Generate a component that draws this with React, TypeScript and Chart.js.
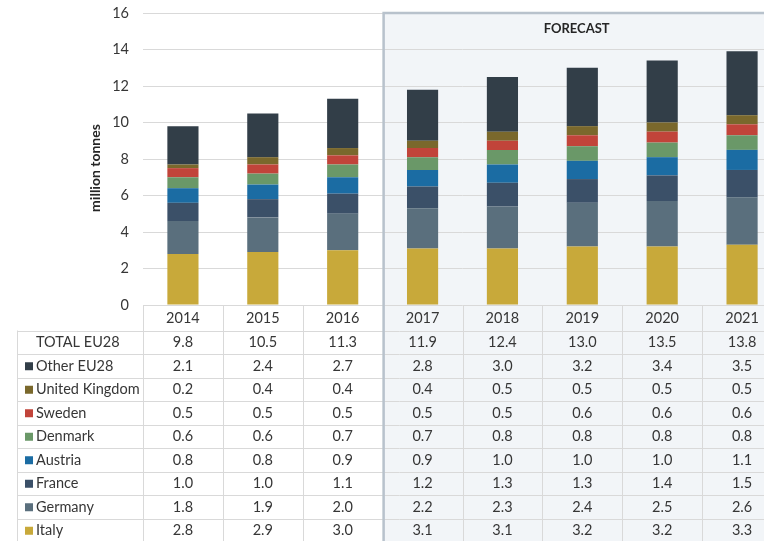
import React, { useEffect, useRef } from 'react';
import { Chart, registerables } from 'chart.js';

Chart.register(...registerables);

const years = ['2014', '2015', '2016', '2017', '2018', '2019', '2020', '2021'];
const forecastStart = 3;
const italy = [2.8, 2.9, 3.0, 3.1, 3.1, 3.2, 3.2, 3.3];
const germany = [1.8, 1.9, 2.0, 2.2, 2.3, 2.4, 2.5, 2.6];
const france = [1.0, 1.0, 1.1, 1.2, 1.3, 1.3, 1.4, 1.5];
const austria = [0.8, 0.8, 0.9, 0.9, 1.0, 1.0, 1.0, 1.1];
const denmark = [0.6, 0.6, 0.7, 0.7, 0.8, 0.8, 0.8, 0.8];
const sweden = [0.5, 0.5, 0.5, 0.5, 0.5, 0.6, 0.6, 0.6];
const unitedKingdom = [0.2, 0.4, 0.4, 0.4, 0.5, 0.5, 0.5, 0.5];
const otherEU28 = [2.1, 2.4, 2.7, 2.8, 3.0, 3.2, 3.4, 3.5];
const totalEU28 = [9.8, 10.5, 11.3, 11.9, 12.4, 13.0, 13.5, 13.8];

const series = [
  { name: 'Italy', data: italy, color: '#c8a93a' },
  { name: 'Germany', data: germany, color: '#5a6f7d' },
  { name: 'France', data: france, color: '#3b5068' },
  { name: 'Austria', data: austria, color: '#1b6ca3' },
  { name: 'Denmark', data: denmark, color: '#6a9868' },
  { name: 'Sweden', data: sweden, color: '#c1443a' },
  { name: 'United Kingdom', data: unitedKingdom, color: '#7a682c' },
  { name: 'Other EU28', data: otherEU28, color: '#323e48' },
];

const TEXT = '#363636';
const LINE = '#d9d9d9';

const tablePlugin = {
  id: 'tableForecast',
  beforeDraw(chart: any) {
    const { ctx, chartArea, scales } = chart;
    const x = scales.x;
    const colW = x.getPixelForValue(1) - x.getPixelForValue(0);
    const fx = x.getPixelForValue(forecastStart) - colW / 2;
    ctx.save();
    ctx.fillStyle = '#f2f5f8';
    ctx.fillRect(fx, chartArea.top, chart.width - fx, chart.height - chartArea.top);
    ctx.restore();
  },
  afterDraw(chart: any) {
    const { ctx, chartArea, scales } = chart;
    const x = scales.x;
    const colW = x.getPixelForValue(1) - x.getPixelForValue(0);
    const fx = x.getPixelForValue(forecastStart) - colW / 2;
    const top = chartArea.bottom;
    const headerH = 25.5;
    const rowH = 23.5;
    const tableLeft = 17;
    const rows = [
      { name: 'TOTAL EU28', data: totalEU28, color: null as string | null },
      ...series.slice().reverse().map((s) => ({ name: s.name, data: s.data, color: s.color as string | null })),
    ];
    ctx.save();
    ctx.strokeStyle = LINE;
    ctx.lineWidth = 1;
    for (let k = 0; k <= rows.length; k++) {
      const y = Math.round(top + headerH + k * rowH) + 0.5;
      ctx.beginPath();
      ctx.moveTo(tableLeft, y);
      ctx.lineTo(chart.width, y);
      ctx.stroke();
    }
    ctx.beginPath();
    ctx.moveTo(tableLeft + 0.5, top + headerH);
    ctx.lineTo(tableLeft + 0.5, chart.height);
    ctx.stroke();
    for (let i = 0; i <= years.length; i++) {
      const vx = Math.round(x.getPixelForValue(i) - colW / 2) + 0.5;
      ctx.beginPath();
      ctx.moveTo(vx, top);
      ctx.lineTo(vx, chart.height);
      ctx.stroke();
    }
    ctx.fillStyle = TEXT;
    ctx.font = '14.5px Lato';
    ctx.textAlign = 'center';
    ctx.textBaseline = 'middle';
    years.forEach((yr, i) => {
      ctx.fillText(yr, x.getPixelForValue(i), top + headerH / 2 + 1);
    });
    rows.forEach((r, k) => {
      const cy = top + headerH + k * rowH + rowH / 2 + 0.5;
      if (r.color) {
        ctx.fillStyle = r.color;
        ctx.fillRect(25, cy - 4, 8, 8);
      }
      ctx.fillStyle = TEXT;
      ctx.textAlign = 'left';
      ctx.fillText(r.name, 36, cy);
      ctx.textAlign = 'center';
      r.data.forEach((v, i) => {
        ctx.fillText(v.toFixed(1), x.getPixelForValue(i), cy);
      });
    });
    ctx.strokeStyle = '#b8c2cc';
    ctx.lineWidth = 2.5;
    ctx.beginPath();
    ctx.moveTo(fx + 1, chart.height);
    ctx.lineTo(fx + 1, chartArea.top);
    ctx.lineTo(chart.width, chartArea.top);
    ctx.stroke();
    ctx.fillStyle = '#262626';
    ctx.font = 'bold 13px Lato';
    ctx.textAlign = 'center';
    ctx.fillText('FORECAST', fx + 194, chartArea.top + 16);
    ctx.translate(95, 168);
    ctx.rotate(-Math.PI / 2);
    ctx.font = 'bold 14px Lato';
    ctx.fillStyle = '#262626';
    ctx.fillText('million tonnes', 0, 0);
    ctx.restore();
  },
};

export default function App() {
  const ref = useRef<HTMLCanvasElement>(null);
  useEffect(() => {
    if (!ref.current) return;
    Chart.defaults.font.family = 'Lato';
    const chart = new Chart(ref.current, {
      type: 'bar',
      data: {
        labels: years,
        datasets: series.map((s) => ({
          label: s.name,
          data: s.data,
          backgroundColor: s.color,
          borderWidth: 0,
          barPercentage: 0.39,
          categoryPercentage: 1,
        })),
      },
      options: {
        responsive: false,
        animation: false,
        devicePixelRatio: 1,
        layout: { padding: { left: 0, right: 0, top: 13, bottom: 236 } },
        plugins: { legend: { display: false }, tooltip: { enabled: false } },
        scales: {
          x: { stacked: true, display: false },
          y: {
            stacked: true,
            min: 0,
            max: 16,
            ticks: { stepSize: 2, padding: 14, color: TEXT, font: { size: 14.5, family: 'Lato' } },
            grid: { color: LINE, drawTicks: false },
            border: { display: false },
            afterFit: (s: any) => {
              s.width = 143;
              s.paddingTop = 0;
              s.paddingBottom = 0;
            },
          },
        },
      },
      plugins: [tablePlugin],
    });
    return () => chart.destroy();
  }, []);
  return (
    <div style={{ position: 'fixed', left: 0, top: 0, width: 764, height: 541, overflow: 'hidden', background: '#fff' }}>
      <canvas ref={ref} width={782} height={541} style={{ display: 'block' }} />
    </div>
  );
}
